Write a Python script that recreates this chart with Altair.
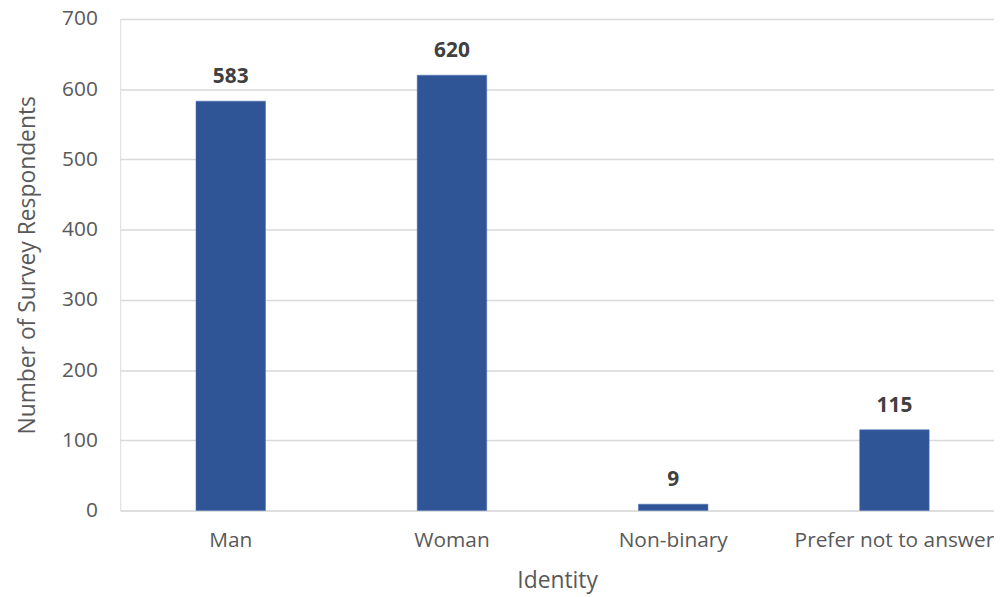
import altair as alt
import pandas as pd

categories = ["Man", "Woman", "Non-binary", "Prefer not to answer"]
counts = [583, 620, 9, 115]

df = pd.DataFrame({"Identity": categories, "Count": counts})

FONT = "Open Sans"
FS = 21
TFS = 23
x_enc = alt.X(
    "Identity:N",
    sort=categories,
    title="Identity",
    scale=alt.Scale(paddingInner=0.6858, paddingOuter=0.3178, align=0.539),
    axis=alt.Axis(
        labelAngle=0, labelFont=FONT, labelFontSize=FS, labelColor="#595959",
        labelPadding=19, labelLimit=0, ticks=False, domain=False, grid=False,
        titleFont=FONT, titleFontSize=TFS, titleColor="#595959",
        titleFontWeight="normal", titleY=71, titleBaseline="middle",
    ),
)
y_enc = alt.Y(
    "Count:Q",
    title="Number of Survey Respondents",
    scale=alt.Scale(domain=[0, 700], nice=False),
    axis=alt.Axis(
        values=[0, 100, 200, 300, 400, 500, 600, 700],
        labelFont=FONT, labelFontSize=FS, labelColor="#595959",
        labelPadding=23, ticks=False, domain=False,
        grid=True, gridColor="#d9d9d9", gridWidth=1.5,
        titleFont=FONT, titleFontSize=TFS, titleColor="#595959",
        titleFontWeight="normal", titleX=-93, titleY=247.5,
        titleBaseline="middle", titleAngle=-90,
    ),
)

base = alt.Chart(df).encode(x=x_enc, y=y_enc)
bars = base.mark_bar(color="#2F5597", stroke="#4a72b8", strokeWidth=0.5)
labels = base.mark_text(
    baseline="bottom", dy=-14, font=FONT, fontSize=FS, fontWeight="bold",
    color="#404040",
).encode(text="Count:Q")

chart = (bars + labels).properties(
    width=880, height=495,
    autosize=alt.AutoSizeParams(type="none"),
    padding={"left": 113, "top": 9, "right": 0, "bottom": 85},
).configure_view(stroke=None).configure(background="white")

chart.save("out.html", embed_options={"renderer": "svg", "actions": False})
